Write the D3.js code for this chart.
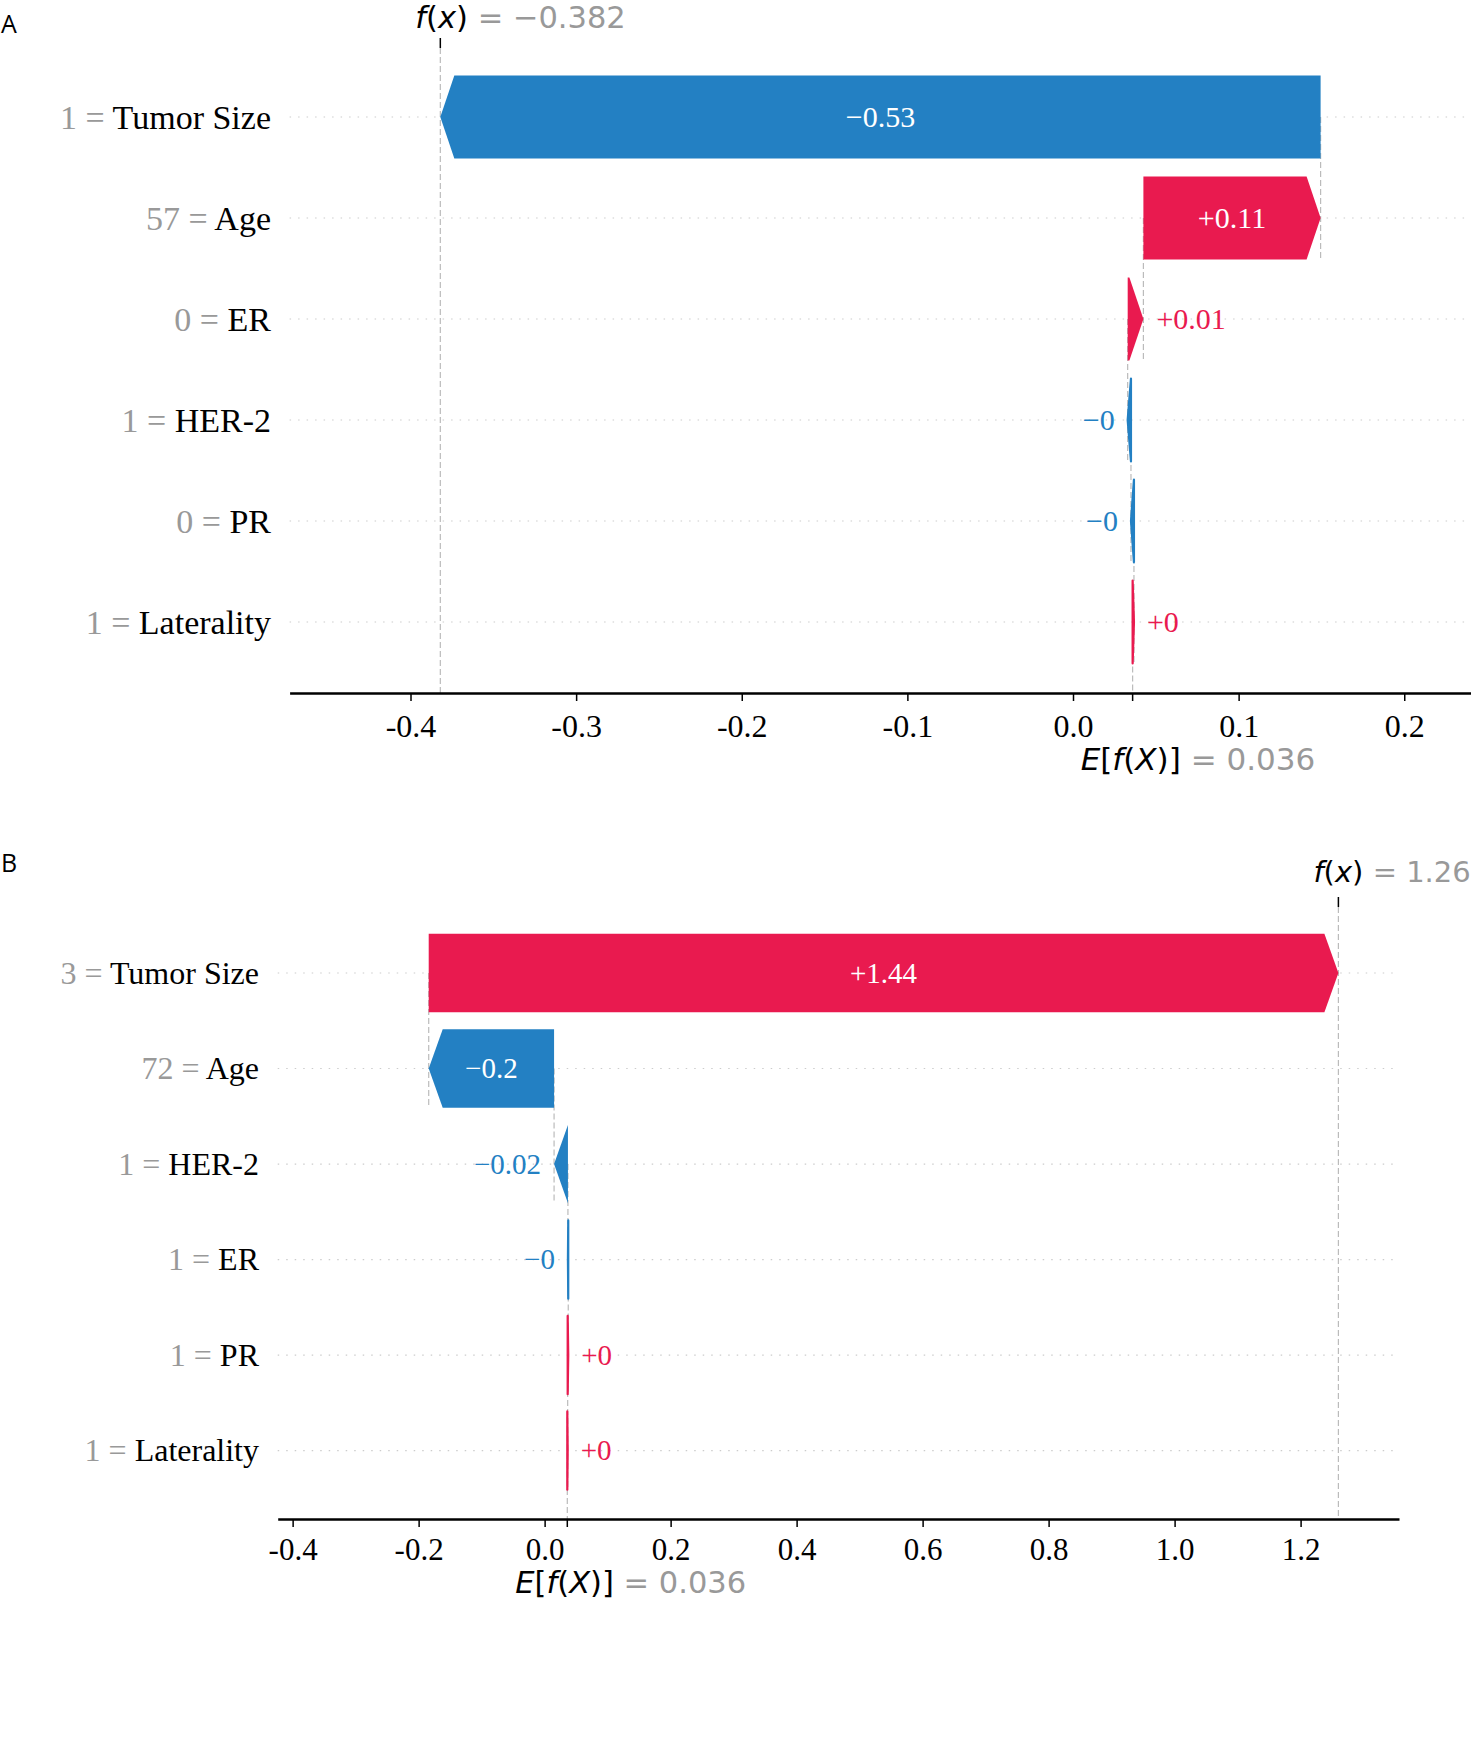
<!DOCTYPE html>
<html>
<head>
<meta charset="utf-8">
<script src="https://cdn.jsdelivr.net/npm/d3@7"></script>
<style>
  body { margin: 0; background: #fff; }
  svg { display: block; }
  text { white-space: pre; }
</style>
</head>
<body>
<svg id="chart" width="1471" height="1747"></svg>
<script>
// Shared expected value of the model output
const baseValue = 0.036;

// Panel A: feature rows (top to bottom), shown feature values and SHAP values
const featuresA = ["Tumor Size", "Age", "ER", "HER-2", "PR", "Laterality"];
const featValsA = ["1", "57", "0", "1", "0", "1"];
const shapA = [-0.5315, 0.107, 0.0095, -0.002, -0.0018, 0.0008];
const ticksA = [-0.4, -0.3, -0.2, -0.1, 0.0, 0.1, 0.2];

// Panel B
const featuresB = ["Tumor Size", "Age", "HER-2", "ER", "PR", "Laterality"];
const featValsB = ["3", "72", "1", "1", "1", "1"];
const shapB = [1.444, -0.199, -0.022, -0.0005, 0.0009, 0.0006];
const ticksB = [-0.4, -0.2, 0.0, 0.2, 0.4, 0.6, 0.8, 1.0, 1.2];

const RED = "#e91a4f", BLUE = "#2380c3";
const SERIF = "'Liberation Serif','Times New Roman',serif";
const SANS = "'DejaVu Sans',sans-serif";

// shap style: "%+0.02f" with trailing zeros stripped, unicode minus
function fmtSigned(v) {
    const s = Math.abs(v).toFixed(2).replace(/\.?0+$/, "");
    return (v < 0 ? "\u2212" : "+") + s;
}
function fmtPlain(v, d) {
    const s = Math.abs(v).toFixed(d).replace(/\.?0+$/, "");
    return (v < 0 ? "\u2212" : "") + s;
}

const svg = d3.select("#chart");
svg.append("rect").attr("width", 1471).attr("height", 1747).attr("fill", "#fff");

function drawPanel(p) {
    const g = svg.append("g");
    const x = d3.scaleLinear().domain(p.domain).range([p.left, p.right]);
    const y = d3.scalePoint().domain(p.features).range([p.rowTop, p.rowBottom]);
    const bh = y.step() * 0.82;
    const n = p.features.length;

    // running sums, starting from the base value at the bottom row
    const starts = [], ends = [];
    let acc = baseValue;
    for (let i = n - 1; i >= 0; i--) {
        starts[i] = acc;
        acc += p.shap[i];
        ends[i] = acc;
    }
    const fx = acc;

    // dotted row guides
    g.selectAll(".guide").data(p.features).join("line")
        .attr("x1", p.left).attr("x2", p.right)
        .attr("y1", d => y(d)).attr("y2", d => y(d))
        .attr("stroke", "#ccc").attr("stroke-width", 1.2)
        .attr("stroke-dasharray", "1.5,7");

    // f(x) line over the whole plot, E[f(X)] line over the bottom row only
    g.append("line")
        .attr("x1", x(fx)).attr("x2", x(fx))
        .attr("y1", p.top).attr("y2", p.axisY)
        .attr("stroke", "#bbb").attr("stroke-width", 1.2).attr("stroke-dasharray", "6,3");
    g.append("line")
        .attr("x1", x(baseValue)).attr("x2", x(baseValue))
        .attr("y1", p.axisY - (p.axisY - p.top) / n).attr("y2", p.axisY)
        .attr("stroke", "#bbb").attr("stroke-width", 1.2).attr("stroke-dasharray", "6,3");
    g.append("line")
        .attr("x1", x(fx)).attr("x2", x(fx))
        .attr("y1", p.top - 10).attr("y2", p.top)
        .attr("stroke", "#000").attr("stroke-width", 1.5);

    // connectors between consecutive bars
    for (let i = 1; i < n; i++) {
        g.append("line")
            .attr("x1", x(ends[i])).attr("x2", x(ends[i]))
            .attr("y1", y(p.features[i - 1])).attr("y2", y(p.features[i]) + bh / 2)
            .attr("stroke", "#bbb").attr("stroke-width", 1.2).attr("stroke-dasharray", "6,3");
    }

    // arrow shaped bars
    const hl = 14;
    const rows = p.features.map((f, i) => ({ f, v: p.shap[i], s: starts[i], e: ends[i], val: p.vals[i] }));
    function arrow(d) {
        const xs = x(d.s), xe = x(d.e), yc = y(d.f);
        const w = Math.abs(xe - xs), h = Math.min(hl, w), dir = xe >= xs ? 1 : -1;
        const t = yc - bh / 2, b = yc + bh / 2;
        return [[xs, t], [xe - dir * h, t], [xe, yc], [xe - dir * h, b], [xs, b]];
    }
    g.selectAll(".bar").data(rows).join("polygon")
        .attr("points", d => arrow(d).join(" "))
        .attr("fill", d => d.v >= 0 ? RED : BLUE)
        .attr("stroke", d => d.v >= 0 ? RED : BLUE)
        .attr("stroke-linejoin", "round")
        .attr("stroke-width", d => Math.abs(x(d.e) - x(d.s)) < 5 ? 2.2 : 0);

    // value labels: inside in white when they fit, otherwise beside the tip
    rows.forEach(d => {
        const t = g.append("text")
            .attr("font-family", SERIF).attr("font-size", p.barFont)
            .attr("y", y(d.f) + p.barFont * 0.34)
            .text(fmtSigned(d.v));
        const tw = t.node().getComputedTextLength();
        const bw = Math.abs(x(d.e) - x(d.s));
        if (tw + 24 < bw) {
            t.attr("x", (x(d.s) + x(d.e)) / 2).attr("text-anchor", "middle").attr("fill", "#fff");
        } else if (d.v >= 0) {
            t.attr("x", x(d.e) + 13).attr("text-anchor", "start").attr("fill", RED);
        } else {
            t.attr("x", x(d.e) - 13).attr("text-anchor", "end").attr("fill", BLUE);
        }
    });

    // feature labels
    const lab = g.selectAll(".flab").data(rows).join("text")
        .attr("x", p.labelRight).attr("y", d => y(d.f) + p.labelFont * 0.34)
        .attr("text-anchor", "end")
        .attr("font-family", SERIF).attr("font-size", p.labelFont);
    lab.append("tspan").attr("fill", "#999").text(d => d.val + " = ");
    lab.append("tspan").attr("fill", "#000").text(d => d.f);

    // bottom axis
    const axis = d3.axisBottom(x).tickValues(p.ticks).tickSize(8).tickSizeOuter(0)
        .tickFormat(d => d.toFixed(1));
    const ag = g.append("g").attr("transform", `translate(0,${p.axisY})`).call(axis);
    ag.select(".domain").attr("stroke", "#000").attr("stroke-width", 2.5);
    ag.selectAll(".tick line").attr("stroke", "#000").attr("stroke-width", 1.5);
    ag.selectAll(".tick text")
        .attr("font-family", SERIF).attr("font-size", p.tickFont)
        .attr("fill", "#000").attr("y", p.tickBaseline).attr("dy", 0);
    ag.append("line")
        .attr("x1", x(baseValue)).attr("x2", x(baseValue)).attr("y1", 0).attr("y2", 8)
        .attr("stroke", "#000").attr("stroke-width", 1.5);

    // f(x) label on top
    const ft = g.append("text")
        .attr("x", x(fx) - 25).attr("y", p.fxBaseline)
        .attr("font-family", SANS).attr("font-size", p.fxFont).attr("fill", "#000");
    ft.append("tspan").attr("font-style", "italic").text("f");
    ft.append("tspan").text("(");
    ft.append("tspan").attr("font-style", "italic").text("x");
    ft.append("tspan").text(")");
    ft.append("tspan").attr("fill", "#999").text(" = " + fmtPlain(fx, 3));

    // E[f(X)] label below the axis
    const et = g.append("text")
        .attr("x", x(baseValue) - 52).attr("y", p.eBaseline)
        .attr("font-family", SANS).attr("font-size", p.eFont).attr("fill", "#000");
    et.append("tspan").attr("font-style", "italic").text("E");
    et.append("tspan").text("[");
    et.append("tspan").attr("font-style", "italic").text("f");
    et.append("tspan").text("(");
    et.append("tspan").attr("font-style", "italic").text("X");
    et.append("tspan").text(")]");
    et.append("tspan").attr("fill", "#999").text(" = " + fmtPlain(baseValue, 3));

    // panel letter
    svg.append("text").attr("x", 1).attr("y", p.letterY)
        .attr("font-family", "'Open Sans',sans-serif").attr("font-size", 25)
        .attr("fill", "#000").text(p.letter);
}

drawPanel({
    letter: "A", letterY: 33,
    features: featuresA, vals: featValsA, shap: shapA, ticks: ticksA,
    domain: [-0.473, 0.2403], left: 289.6, right: 1471,
    rowTop: 117, rowBottom: 622, top: 48, axisY: 693,
    tickFont: 32, tickBaseline: 44, labelRight: 271, labelFont: 34,
    barFont: 30, fxFont: 30.5, eFont: 31, fxBaseline: 28, eBaseline: 770
});

drawPanel({
    letter: "B", letterY: 872,
    features: featuresB, vals: featValsB, shap: shapB, ticks: ticksB,
    domain: [-0.4237, 1.3562], left: 277.7, right: 1399,
    rowTop: 973, rowBottom: 1450.6, top: 907, axisY: 1519,
    tickFont: 31, tickBaseline: 41, labelRight: 259, labelFont: 32,
    barFont: 29, fxFont: 29, eFont: 30.5, fxBaseline: 882, eBaseline: 1593
});
</script>
</body>
</html>
